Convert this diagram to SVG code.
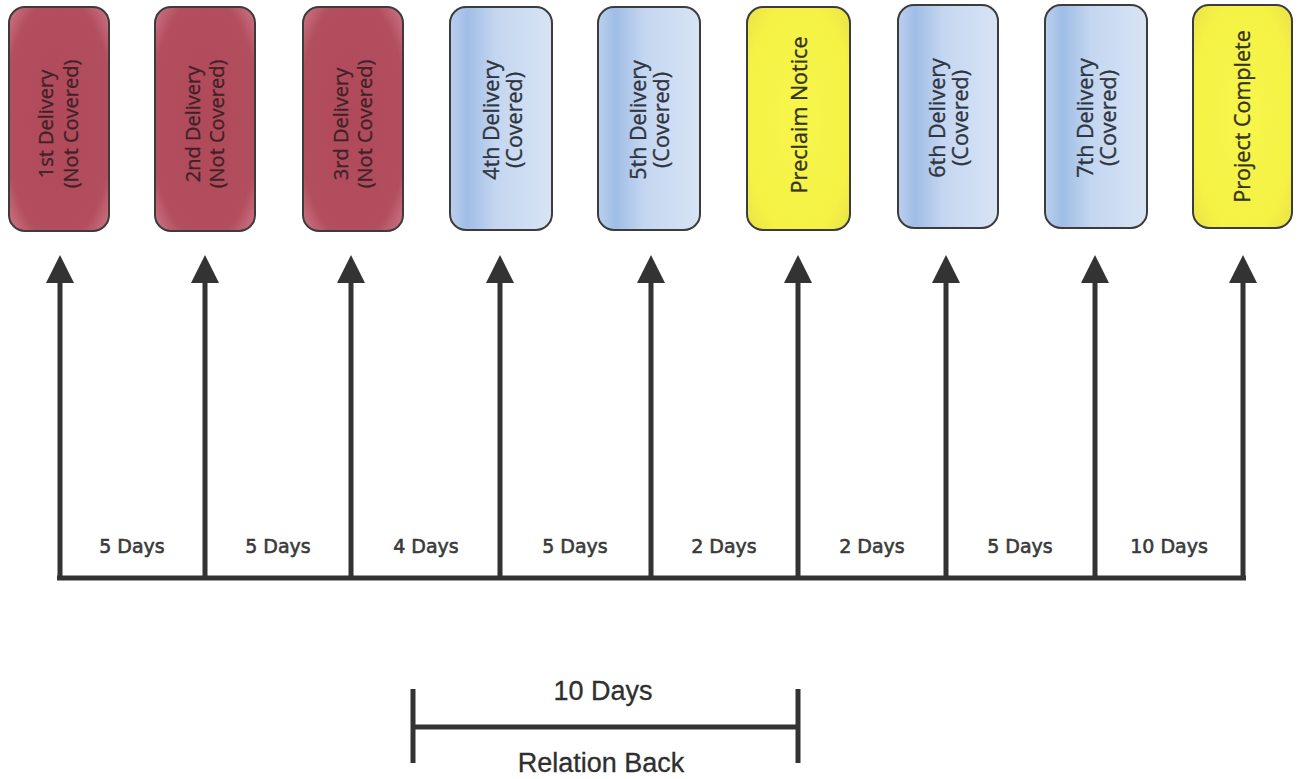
<svg xmlns="http://www.w3.org/2000/svg" width="1298" height="779" viewBox="0 0 1298 779">
<style>
.box{stroke:#3c3c3c;stroke-width:2}
.red{fill:url(#gRed)}
.blue{fill:url(#gBlue)}
.yel{fill:url(#gYel)}
.lbl{font-family:"Open Sans","DejaVu Sans",sans-serif;font-size:20px;text-anchor:middle;stroke-width:0.35}
.big{font-size:21.5px}
.lr{fill:#3e2228;stroke:#3e2228}
.lb{fill:#2e3440;stroke:#2e3440}
.ly{fill:#33331f;stroke:#33331f}
.arrow{stroke:#333;stroke-width:5;fill:none}
.day{font-family:"DejaVu Sans",Verdana,sans-serif;font-size:19px;fill:#3a3a3a;stroke:#3a3a3a;stroke-width:0.6;text-anchor:middle}
.rb{font-family:"Liberation Sans",Arial,sans-serif;font-size:27px;fill:#2f2f2f;stroke:#2f2f2f;stroke-width:0.3;text-anchor:middle}
</style>
<defs>
<radialGradient id="gRed" cx="0.5" cy="0.5" r="0.72">
<stop offset="0" stop-color="#b04a5a"/>
<stop offset="0.75" stop-color="#b34e5e"/>
<stop offset="1" stop-color="#d07c8c"/>
</radialGradient>
<linearGradient id="gBlue" x1="0" y1="0" x2="1" y2="0">
<stop offset="0" stop-color="#bcd0ee"/>
<stop offset="0.17" stop-color="#9fbde6"/>
<stop offset="0.45" stop-color="#c4d6f0"/>
<stop offset="1" stop-color="#d8e4f5"/>
</linearGradient>
<radialGradient id="gYel" cx="0.5" cy="0.5" r="0.75">
<stop offset="0" stop-color="#f8f54c"/>
<stop offset="0.7" stop-color="#f5f245"/>
<stop offset="1" stop-color="#e6dc4a"/>
</radialGradient>
<marker id="ah" markerUnits="userSpaceOnUse" markerWidth="30" markerHeight="30" refX="0" refY="14" orient="auto" viewBox="0 0 30 30">
<path d="M0,0 L28,14 L0,28 Z" fill="#333"/>
</marker>
</defs>
<rect width="1298" height="779" fill="#ffffff"/>

<g id="n1"><rect class="box red" x="9" y="7" width="100" height="224" rx="16"/>
<text class="lbl lr" transform="translate(59.5,124) rotate(-90)"><tspan x="0" y="-7">1st Delivery</tspan><tspan x="0" y="18">(Not Covered)</tspan></text></g>
<g id="n2"><rect class="box red" x="155" y="7" width="100" height="224" rx="16"/>
<text class="lbl lr" transform="translate(205,124) rotate(-90)"><tspan x="0" y="-5">2nd Delivery</tspan><tspan x="0" y="19">(Not Covered)</tspan></text></g>
<g id="n3"><rect class="box red" x="303" y="7" width="100" height="224" rx="16"/>
<text class="lbl lr" transform="translate(353,124) rotate(-90)"><tspan x="0" y="-5">3rd Delivery</tspan><tspan x="0" y="19">(Not Covered)</tspan></text></g>
<g id="n4"><rect class="box blue" x="450" y="7" width="102" height="223" rx="16"/>
<text class="lbl big lb" transform="translate(501,120) rotate(-90)"><tspan x="0" y="-2">4th Delivery</tspan><tspan x="0" y="21">(Covered)</tspan></text></g>
<g id="n5"><rect class="box blue" x="598" y="7" width="102" height="223" rx="16"/>
<text class="lbl big lb" transform="translate(649,120) rotate(-90)"><tspan x="0" y="-3">5th Delivery</tspan><tspan x="0" y="20">(Covered)</tspan></text></g>
<g id="n6"><rect class="box yel" x="747" y="7" width="103" height="223" rx="16"/>
<text class="lbl big ly" transform="translate(798.5,115) rotate(-90)"><tspan x="0" y="8">Preclaim Notice</tspan></text></g>
<g id="n7"><rect class="box blue" x="898" y="5" width="100" height="223" rx="16"/>
<text class="lbl big lb" transform="translate(948,118) rotate(-90)"><tspan x="0" y="-3">6th Delivery</tspan><tspan x="0" y="20">(Covered)</tspan></text></g>
<g id="n8"><rect class="box blue" x="1045" y="5" width="102" height="223" rx="16"/>
<text class="lbl big lb" transform="translate(1096,118) rotate(-90)"><tspan x="0" y="-3">7th Delivery</tspan><tspan x="0" y="20">(Covered)</tspan></text></g>
<g id="n9"><rect class="box yel" x="1193" y="5" width="99" height="223" rx="16"/>
<text class="lbl big ly" transform="translate(1242.5,116.5) rotate(-90)"><tspan x="0" y="7">Project Complete</tspan></text></g>

<g id="connectors">
<line class="arrow" x1="57" y1="578" x2="1246" y2="578"/>
<line class="arrow" x1="60" y1="578" x2="60" y2="283" marker-end="url(#ah)"/>
<line class="arrow" x1="205" y1="578" x2="205" y2="283" marker-end="url(#ah)"/>
<line class="arrow" x1="351" y1="578" x2="351" y2="283" marker-end="url(#ah)"/>
<line class="arrow" x1="500" y1="578" x2="500" y2="283" marker-end="url(#ah)"/>
<line class="arrow" x1="651" y1="578" x2="651" y2="283" marker-end="url(#ah)"/>
<line class="arrow" x1="798" y1="578" x2="798" y2="283" marker-end="url(#ah)"/>
<line class="arrow" x1="946" y1="578" x2="946" y2="283" marker-end="url(#ah)"/>
<line class="arrow" x1="1095" y1="578" x2="1095" y2="283" marker-end="url(#ah)"/>
<line class="arrow" x1="1243" y1="578" x2="1243" y2="283" marker-end="url(#ah)"/>
</g>

<g id="days">
<text class="day" x="132" y="553">5 Days</text>
<text class="day" x="278" y="553">5 Days</text>
<text class="day" x="426" y="553">4 Days</text>
<text class="day" x="575" y="553">5 Days</text>
<text class="day" x="724" y="553">2 Days</text>
<text class="day" x="872" y="553">2 Days</text>
<text class="day" x="1020" y="553">5 Days</text>
<text class="day" x="1169" y="553">10 Days</text>
</g>

<g id="relation-back">
<line class="arrow" x1="413" y1="689" x2="413" y2="763"/>
<line class="arrow" x1="798" y1="689" x2="798" y2="763"/>
<line class="arrow" x1="413" y1="727" x2="798" y2="727"/>
<text class="rb" x="603" y="700">10 Days</text>
<text class="rb" x="601" y="772">Relation Back</text>
</g>
</svg>
